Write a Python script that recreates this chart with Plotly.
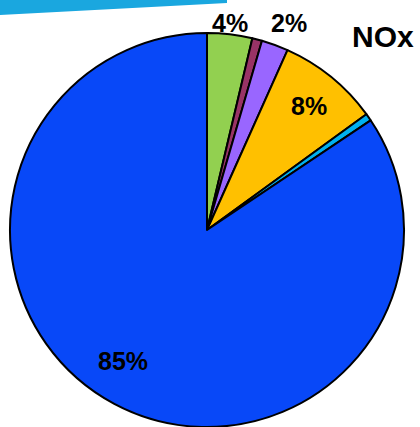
import math
import plotly.graph_objects as go

categories = ["Source A", "Source B", "Source C", "Source D", "Source E", "Source F"]
values = [3.7, 0.8, 2.2, 8.3, 0.6, 84.4]
slice_text = ["4%", "", "2%", "8%", "", "85%"]
colors = ["#92D050", "#993366", "#9966FF", "#FFC000", "#00B0F0", "#0848F8"]
title_text = "NOx"

# label placement styling (radius factor relative to pie radius, pixel nudges)
label_radius = [1.057, 0.0, 1.13, 0.81, 0.0, 0.80]
label_xshift = [-1, 0, 5, 1, 0, -10]
label_yshift = [0, 0, -2, 0, 0, 8]

W, H = 420, 427
CX, CY, R = 207, 230, 197  # pie centre and radius in pixels
dom_x = [(CX - R) / W, (CX + R) / W]
dom_y = [max(0.0, 1 - (CY + R) / H), 1 - (CY - R) / H]

font_family = "Liberation Sans, Arial"

fig = go.Figure(
    go.Pie(
        labels=categories,
        values=values,
        textinfo="none",
        sort=False,
        direction="clockwise",
        rotation=0,
        marker=dict(colors=colors, line=dict(color="black", width=2)),
        hoverinfo="label+percent",
        domain=dict(x=dom_x, y=dom_y),
        showlegend=False,
        automargin=False,
    )
)

# slice labels placed along each slice's mid angle (derived from the values)
total = sum(values)
annotations = []
cum = 0.0
for v, txt, k, xs, ys in zip(values, slice_text, label_radius, label_xshift, label_yshift):
    mid = (cum + v / 2) / total * 2 * math.pi
    cum += v
    if not txt:
        continue
    px = CX + k * R * math.sin(mid)
    py = CY - k * R * math.cos(mid)
    annotations.append(
        dict(
            text=txt,
            xref="paper",
            yref="paper",
            x=px / W,
            y=1 - py / H,
            xanchor="center",
            yanchor="middle",
            xshift=xs,
            yshift=ys,
            showarrow=False,
            font=dict(family=font_family, size=25, color="black", weight="bold"),
        )
    )

annotations.append(
    dict(
        text=title_text,
        xref="paper",
        yref="paper",
        x=350 / W,
        y=1 - 37 / H,
        xanchor="left",
        yanchor="middle",
        showarrow=False,
        font=dict(family=font_family, size=30, color="black", weight="bold"),
    )
)

fig.update_layout(
    width=W,
    height=H,
    margin=dict(l=0, r=0, t=0, b=0, autoexpand=False),
    paper_bgcolor="white",
    plot_bgcolor="white",
    shapes=[
        dict(
            type="path",
            xref="paper",
            yref="paper",
            path=f"M 0 1 L {227 / W} 1 L {227 / W} {1 - 3 / H} L 0 {1 - 15 / H} Z",
            fillcolor="#1AA7DF",
            line=dict(width=0),
        )
    ],
    annotations=annotations,
)

fig.write_html(
    "out.html",
    config={"displayModeBar": False},
    post_script="document.body.style.margin='0px';",
)
